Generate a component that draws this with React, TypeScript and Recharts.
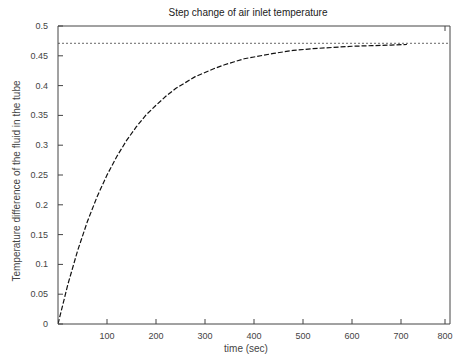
import React from 'react';
import { LineChart, Line, XAxis, YAxis, ReferenceLine } from 'recharts';

// step response
const TIME_S = [0, 20, 40, 60, 80, 100, 120, 140, 160, 180, 200, 220, 240, 260, 280, 300, 320, 340, 360, 380, 400, 440, 480, 520, 560, 600, 640, 680, 712];
const TEMP_DIFF = [0, 0.066, 0.123, 0.172, 0.214, 0.25, 0.281, 0.308, 0.331, 0.351, 0.367, 0.382, 0.395, 0.405, 0.415, 0.422, 0.429, 0.435, 0.44, 0.445, 0.448, 0.454, 0.459, 0.462, 0.464, 0.466, 0.467, 0.468, 0.469];
const FINAL_VALUE = 0.471;

const X_TICKS = [100, 200, 300, 400, 500, 600, 700, 800];
const Y_TICKS = [0, 0.05, 0.1, 0.15, 0.2, 0.25, 0.3, 0.35, 0.4, 0.45, 0.5];

const TITLE = 'Step change of air inlet temperature';
const X_LABEL = 'time (sec)';
const Y_LABEL = 'Temperature difference of the fluid in the tube';

const FONT = '"Liberation Sans", Arial, sans-serif';
const AXIS_COLOR = '#444';
const TEXT_COLOR = '#444';
const TICK_LEN = 5;

const chartData = TIME_S.map((t, i) => ({ t, v: TEMP_DIFF[i] }));

// inward tick marks, MATLAB style
function BottomTick(props: any) {
  const { x, y, payload } = props;
  return (
    <g>
      <line x1={x} y1={y} x2={x} y2={y - TICK_LEN} stroke={AXIS_COLOR} />
      <text x={x} y={y + 15} textAnchor="middle" fontSize={9} fill={TEXT_COLOR} fontFamily={FONT}>
        {payload.value}
      </text>
    </g>
  );
}

function LeftTick(props: any) {
  const { x, y, payload } = props;
  const v = payload.value;
  return (
    <g>
      <line x1={x} y1={y} x2={x + TICK_LEN} y2={y} stroke={AXIS_COLOR} />
      <text x={x - 10} y={y + 3} textAnchor="end" fontSize={9} fill={TEXT_COLOR} fontFamily={FONT}>
        {v === 0 ? '0' : String(v)}
      </text>
    </g>
  );
}

function TopTick(props: any) {
  const { x, y } = props;
  return <line x1={x} y1={y} x2={x} y2={y + TICK_LEN} stroke={AXIS_COLOR} />;
}

function RightTick(props: any) {
  const { x, y } = props;
  return <line x1={x} y1={y} x2={x - TICK_LEN} y2={y} stroke={AXIS_COLOR} />;
}

export default function App() {
  return (
    <div style={{ width: 457, height: 360, background: '#fff' }}>
      <style>{'body{margin:0}'}</style>
      <LineChart
        width={457}
        height={360}
        data={chartData}
        margin={{ top: 25, right: 6, left: 0, bottom: 0 }}
      >
        <XAxis
          dataKey="t"
          type="number"
          domain={[0, 800]}
          ticks={X_TICKS}
          allowDataOverflow
          height={36}
          tickSize={0}
          tickMargin={0}
          tickLine={false}
          stroke={AXIS_COLOR}
          tick={<BottomTick />}
          label={() => (
            <text x={246} y={352} textAnchor="middle" fontSize={10} fill={TEXT_COLOR} fontFamily={FONT}>
              {X_LABEL}
            </text>
          )}
        />
        <XAxis
          xAxisId="top"
          orientation="top"
          type="number"
          domain={[0, 800]}
          ticks={X_TICKS}
          height={1}
          tickSize={0}
          tickMargin={0}
          tickLine={false}
          tick={<TopTick />}
          stroke={AXIS_COLOR}
          label={() => (
            <text x={248} y={16} textAnchor="middle" fontSize={10} fill="#222" fontFamily={FONT}>
              {TITLE}
            </text>
          )}
        />
        <YAxis
          type="number"
          domain={[0, 0.5]}
          ticks={Y_TICKS}
          width={58}
          tickSize={0}
          tickMargin={0}
          tickLine={false}
          stroke={AXIS_COLOR}
          tick={<LeftTick />}
          label={() => (
            <text
              x={17}
              y={181}
              transform="rotate(-90 17 181)"
              textAnchor="middle"
              dominantBaseline="middle"
              fontSize={10}
              fill={TEXT_COLOR}
              fontFamily={FONT}
            >
              {Y_LABEL}
            </text>
          )}
        />
        <YAxis
          yAxisId="right"
          orientation="right"
          type="number"
          domain={[0, 0.5]}
          ticks={Y_TICKS}
          width={1}
          tickSize={0}
          tickMargin={0}
          tickLine={false}
          tick={<RightTick />}
          stroke={AXIS_COLOR}
        />
        <ReferenceLine y={FINAL_VALUE} stroke="#666" strokeDasharray="2 2" strokeWidth={1} />
        <Line
          dataKey="v"
          type="linear"
          stroke="#111"
          strokeWidth={1.2}
          strokeDasharray="5 2"
          dot={false}
          isAnimationActive={false}
        />
      </LineChart>
    </div>
  );
}
